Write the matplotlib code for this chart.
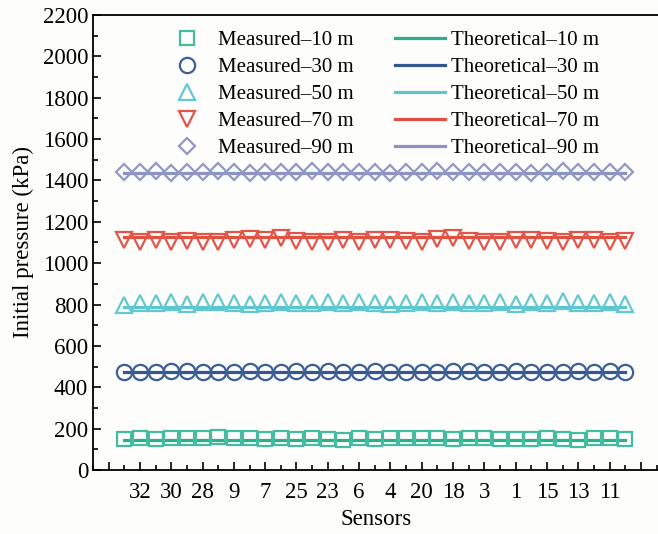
import numpy as np
import matplotlib
matplotlib.use('Agg')
import matplotlib.pyplot as plt
from matplotlib.ticker import MultipleLocator

plt.rcParams['font.family'] = ['Liberation Serif', 'DejaVu Serif']

# sensor positions along the axis (33 sensors, every other one labelled)
pos = np.arange(1, 34)
tick_pos = np.arange(0, 35, 2)
tick_labels = ['', '32', '30', '28', '9', '7', '25', '23', '6', '4', '20', '18',
               '3', '1', '15', '13', '11', '']

# measured initial pressure (kPa) at each depth
meas_10 = [150, 153, 152, 155, 153, 155, 160, 155, 153, 152, 153, 151, 155, 152, 147, 153, 152,
           155, 153, 155, 153, 152, 155, 153, 152, 151, 150, 153, 152, 146, 155, 153, 151]
meas_30 = [474, 476, 475, 477, 479, 475, 476, 474, 478, 476, 475, 477, 474, 479, 476, 475, 477,
           476, 473, 475, 476, 478, 479, 476, 475, 477, 474, 476, 475, 477, 476, 478, 472]
meas_50 = [800, 805, 807, 810, 801, 813, 811, 809, 803, 807, 810, 805, 806, 811, 808, 813, 809,
           802, 807, 811, 809, 813, 805, 808, 811, 803, 811, 809, 815, 807, 805, 811, 803]
meas_70 = [1112, 1104, 1110, 1102, 1107, 1102, 1100, 1112, 1117, 1110, 1120, 1107, 1102, 1104, 1110, 1100, 1114,
           1112, 1106, 1102, 1117, 1120, 1107, 1104, 1102, 1112, 1110, 1107, 1102, 1114, 1110, 1104, 1108]
meas_90 = [1440, 1442, 1445, 1438, 1442, 1440, 1444, 1441, 1438, 1443, 1440, 1442, 1445, 1439, 1441, 1440, 1443,
           1438, 1442, 1440, 1444, 1441, 1439, 1442, 1440, 1443, 1438, 1441, 1444, 1440, 1442, 1439, 1441]

# theoretical values (constant per depth)
theo = [147, 475, 788, 1128, 1438]
depths = ['10', '30', '50', '70', '90']

meas_all = [meas_10, meas_30, meas_50, meas_70, meas_90]
markers = ['s', 'o', '^', 'v', 'D']
msizes = [10.2, 11, 12, 12, 8.3]
mcolors = ['#45bc9f', '#3d5f97', '#62c8d2', '#e2564a', '#9198c5']
lcolors = ['#2bb08e', '#34578f', '#5cc6d0', '#e0503f', '#8c93c3']

fig = plt.figure(figsize=(6.58, 5.34), dpi=100, facecolor='#fdfdfb')
ax = fig.add_axes([0.1413, 0.1199, 0.862, 0.852])
ax.set_facecolor('#fdfdfb')

m_handles = []
l_handles = []
for i in range(5):
    ln, = ax.plot([pos[0], pos[-1]], [theo[i], theo[i]], color=lcolors[i], lw=2.3,
                  label=f'Theoretical–{depths[i]} m', zorder=2)
    mk, = ax.plot(pos, meas_all[i], linestyle='none', marker=markers[i], ms=msizes[i],
                  mfc='none', mec=mcolors[i], mew=1.6, label=f'Measured–{depths[i]} m', zorder=3)
    m_handles.append(mk)
    l_handles.append(ln)

# right edge sits just past the picture border, as in the original crop
ax.set_xlim(-1, 35.23)
ax.set_ylim(0, 2200)
ax.set_xticks(tick_pos)
ax.set_xticklabels(tick_labels)
ax.xaxis.set_minor_locator(MultipleLocator(1))
ax.yaxis.set_major_locator(MultipleLocator(200))
ax.yaxis.set_minor_locator(MultipleLocator(100))
ax.tick_params(which='both', direction='in', labelsize=16.5, width=1.2)
ax.tick_params(which='major', length=6)
ax.tick_params(which='minor', length=3.5)
ax.tick_params(axis='x', pad=9)
for s in ax.spines.values():
    s.set_linewidth(1.3)

ax.set_xlabel('Sensors', fontsize=16.5, labelpad=4)
ax.set_ylabel('Initial pressure (kPa)', fontsize=16.5, labelpad=6)

# legend: markers in the left column, lines in the right one
leg_h = m_handles + l_handles
ax.legend(leg_h, [h.get_label() for h in leg_h],
          ncol=2, frameon=False, fontsize=15, loc='upper left',
          bbox_to_anchor=(0.123, 0.966), borderaxespad=0, borderpad=0,
          handlelength=2.36, handletextpad=0.3, columnspacing=2.0, labelspacing=0.36)

fig.savefig('out.png', dpi=100, facecolor=fig.get_facecolor())
